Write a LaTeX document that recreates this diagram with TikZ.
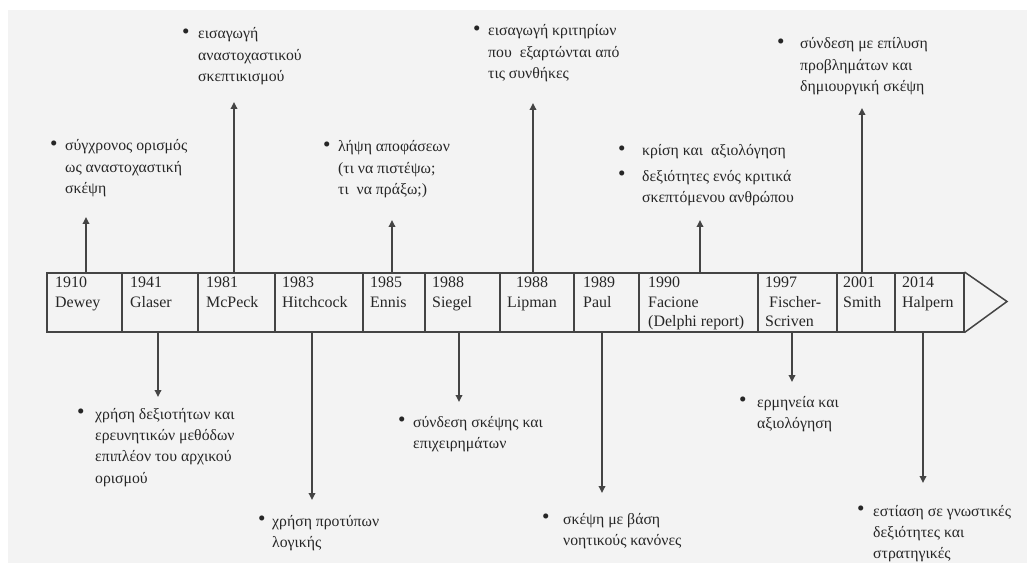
\documentclass[tikz,border=0pt]{standalone}
\usepackage{fontspec}
\setmainfont{Liberation Serif}
\usetikzlibrary{arrows.meta}
\definecolor{bg}{HTML}{F3F3F3}
\definecolor{ln}{HTML}{444444}
\definecolor{tx}{HTML}{262626}
\newcommand{\B}[1]{\makebox[#1][l]{\raisebox{0.6bp}{\scalebox{1.35}{\textbullet}}}}
\begin{document}
\begin{tikzpicture}[x=1bp,y=-1bp,
  cell/.style={draw=ln, line width=1.5bp, minimum height=59bp, inner sep=0, anchor=north west},
  ctext/.style={anchor=base west, inner sep=0, text=tx, font=\fontsize{16}{19.5}\selectfont},
  ann/.style={anchor=base west, inner sep=0, text=tx, font=\fontsize{15.8}{21.5}\selectfont},
  arr/.style={draw=ln, line width=1.7bp, -{Triangle[length=7bp,width=6.5bp]}}]
\useasboundingbox (0,0) rectangle (1027,566);
\fill[white] (0,0) rectangle (1027,566);
\fill[bg] (8,10) rectangle (1027,563);

% timeline cells
\node[cell, minimum width=75bp]  (c1)  at (46,272) {};
\node[cell, minimum width=76bp]  (c2)  at (121,272) {};
\node[cell, minimum width=77bp]  (c3)  at (197,272) {};
\node[cell, minimum width=88bp]  (c4)  at (274,272) {};
\node[cell, minimum width=62bp]  (c5)  at (362,272) {};
\node[cell, minimum width=75bp]  (c6)  at (424,272) {};
\node[cell, minimum width=74bp]  (c7)  at (499,272) {};
\node[cell, minimum width=65bp]  (c8)  at (573,272) {};
\node[cell, minimum width=119bp] (c9)  at (638,272) {};
\node[cell, minimum width=79bp]  (c10) at (757,272) {};
\node[cell, minimum width=58bp]  (c11) at (836,272) {};
\node[cell, minimum width=69bp]  (c12) at (894,272) {};
\coordinate (head) at (1007,301.5);
\draw[draw=ln, line width=1.5bp, line join=miter] (c12.north east) -- (head) -- (c12.south east);

% cell texts
\node[ctext] (t1)  at (55,288)  {\begin{tabular}[t]{@{}l@{}}1910\\Dewey\end{tabular}};
\node[ctext] (t2)  at (130,288) {\begin{tabular}[t]{@{}l@{}}1941\\Glaser\end{tabular}};
\node[ctext] (t3)  at (206,288) {\begin{tabular}[t]{@{}l@{}}1981\\McPeck\end{tabular}};
\node[ctext] (t4)  at (282,288) {\begin{tabular}[t]{@{}l@{}}1983\\Hitchcock\end{tabular}};
\node[ctext] (t5)  at (370,288) {\begin{tabular}[t]{@{}l@{}}1985\\Ennis\end{tabular}};
\node[ctext] (t6)  at (432,288) {\begin{tabular}[t]{@{}l@{}}1988\\Siegel\end{tabular}};
\node[ctext] (t7)  at (507,288) {\begin{tabular}[t]{@{}l@{}}\hspace{9bp}1988\\Lipman\end{tabular}};
\node[ctext] (t8)  at (583,288) {\begin{tabular}[t]{@{}l@{}}1989\\Paul\end{tabular}};
\node[ctext] (t9)  at (648,288) {\begin{tabular}[t]{@{}l@{}}1990\\Facione\\(Delphi report)\end{tabular}};
\node[ctext] (t10) at (765,288) {\begin{tabular}[t]{@{}l@{}}1997\\\hspace{4bp}Fischer-\\Scriven\end{tabular}};
\node[ctext] (t11) at (843,288) {\begin{tabular}[t]{@{}l@{}}2001\\Smith\end{tabular}};
\node[ctext] (t12) at (902,288) {\begin{tabular}[t]{@{}l@{}}2014\\Halpern\end{tabular}};

% top annotations
\node[ann] (a1) at (50,151) {\begin{tabular}[t]{@{}l@{}l@{}}\B{15bp}&σύγχρονος ορισμός\\&ως αναστοχαστική\\&σκέψη\end{tabular}};
\node[ann] (a3) at (182,39) {\begin{tabular}[t]{@{}l@{}l@{}}\B{16bp}&εισαγωγή\\&αναστοχαστικού\\&σκεπτικισμού\end{tabular}};
\node[ann] (a5) at (323,152) {\begin{tabular}[t]{@{}l@{}l@{}}\B{15bp}&λήψη αποφάσεων\\&(τι να πιστέψω;\\&τι\hspace{4bp} να πράξω;)\end{tabular}};
\node[ann] (a7) at (473,36) {\begin{tabular}[t]{@{}l@{}l@{}}\B{15bp}&εισαγωγή κριτηρίων\\&που\hspace{4bp} εξαρτώνται από\\&τις συνθήκες\end{tabular}};
\node[ann] (a9) at (618,156) {\begin{tabular}[t]{@{}l@{}l@{}}\B{24bp}&κρίση και\hspace{4bp} αξιολόγηση\\[4bp]\B{24bp}&δεξιότητες ενός κριτικά\\&σκεπτόμενου ανθρώπου\end{tabular}};
\node[ann] (a11) at (777,49) {\begin{tabular}[t]{@{}l@{}l@{}}\B{23bp}&σύνδεση με επίλυση\\&προβλημάτων και\\&δημιουργική σκέψη\end{tabular}};

% bottom annotations
\node[ann] (a2) at (77,419) {\begin{tabular}[t]{@{}l@{}l@{}}\B{18bp}&χρήση δεξιοτήτων και\\&ερευνητικών μεθόδων\\&επιπλέον του αρχικού\\&ορισμού\end{tabular}};
\node[ann] (a4) at (258,526) {\begin{tabular}[t]{@{}l@{}l@{}}\B{14bp}&χρήση προτύπων\\&λογικής\end{tabular}};
\node[ann] (a6) at (398,427) {\begin{tabular}[t]{@{}l@{}l@{}}\B{15bp}&σύνδεση σκέψης και\\&επιχειρημάτων\end{tabular}};
\node[ann] (a8) at (542,524) {\begin{tabular}[t]{@{}l@{}l@{}}\B{21bp}&σκέψη με βάση\\&νοητικούς κανόνες\end{tabular}};
\node[ann] (a10) at (739,407) {\begin{tabular}[t]{@{}l@{}l@{}}\B{18bp}&ερμηνεία και\\&αξιολόγηση\end{tabular}};
\node[ann] (a12) at (857,516) {\begin{tabular}[t]{@{}l@{}l@{}}\B{16bp}&εστίαση σε γνωστικές\\&δεξιότητες και\\&στρατηγικές\end{tabular}};

% arrow tips
\coordinate (p1) at (86,217);
\coordinate (p3) at (234,102);
\coordinate (p5) at (392,220);
\coordinate (p7) at (533,103);
\coordinate (p9) at (700,220);
\coordinate (p11) at (862,108);
\coordinate (p2) at (158,397);
\coordinate (p4) at (312,500);
\coordinate (p6) at (459,402);
\coordinate (p8) at (602,493);
\coordinate (p10) at (792,382);
\coordinate (p12) at (923,483);

\draw[arr] (p1 |- c1.north) -- (p1);
\draw[arr] (p3 |- c3.north) -- (p3);
\draw[arr] (p5 |- c5.north) -- (p5);
\draw[arr] (p7 |- c7.north) -- (p7);
\draw[arr] (p9 |- c9.north) -- (p9);
\draw[arr] (p11 |- c11.north) -- (p11);
\draw[arr] (p2 |- c2.south) -- (p2);
\draw[arr] (p4 |- c4.south) -- (p4);
\draw[arr] (p6 |- c6.south) -- (p6);
\draw[arr] (p8 |- c8.south) -- (p8);
\draw[arr] (p10 |- c10.south) -- (p10);
\draw[arr] (p12 |- c12.south) -- (p12);
\end{tikzpicture}
\end{document}
